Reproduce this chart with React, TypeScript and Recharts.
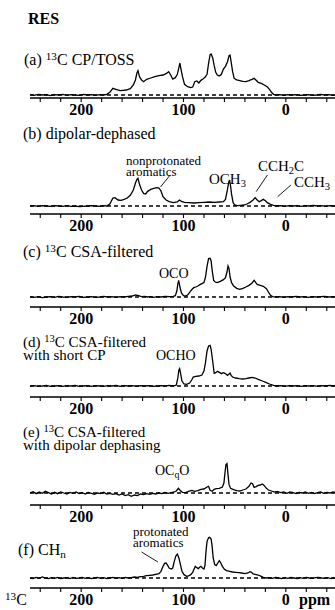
import React from 'react';
import { LineChart, Line, XAxis, YAxis, ReferenceLine } from 'recharts';

// ppm axis, shared by all six spectra
const PPM_TICKS = [240, 220, 200, 180, 160, 140, 120, 100, 80, 60, 40, 20, 0, -20, -40];
const PPM_LABELS = [200, 100, 0];

// (a) 13C CP/TOSS  [ppm, intensity]
const CP_TOSS: [number, number][] = [
  [250, 1], [246, -1], [242, 2], [238, 0], [234, 1], [230, -2], [226, 1], [222, 0], [218, 2], [214, -1],
  [210, 1], [206, 0], [202, -1], [198, 2], [194, 0], [190, 1], [186, -1], [182, 1], [178, 0], [175, 2],
  [172, 8], [169, 20], [166, 17], [162, 13], [159, 14], [156, 15], [152, 19], [149, 30], [147, 45], [145.5, 66],
  [144.5, 73], [143, 55], [141, 45], [139, 40], [136, 47], [132, 51], [128, 55], [124, 58], [120, 60], [117, 64],
  [114.5, 70], [112.5, 60], [110.5, 48], [108, 52], [106, 62], [104.5, 82], [103.5, 96], [102.5, 78], [101, 55], [99, 32],
  [96, 25], [93, 22], [91, 24], [89, 40], [87, 42], [85, 36], [83, 44], [81, 48], [79, 53], [77, 62],
  [75.5, 95], [74, 121], [73, 123], [71.5, 112], [70, 88], [68.5, 68], [67, 60], [65, 57], [63, 62], [61, 78],
  [59, 86], [57, 100], [55.5, 118], [54.5, 120], [53.5, 100], [52, 70], [50.5, 50], [48, 45], [45, 43], [42, 41],
  [39, 40], [36, 43], [33, 47], [31, 50], [29, 44], [27, 38], [24, 35], [21, 30], [18, 24], [16, 17],
  [14, 8], [12, 2], [10, 0], [6, 1], [2, -1], [-2, 1], [-6, 0], [-10, 1], [-14, -1], [-18, 0],
  [-22, 1], [-26, -1], [-30, 0], [-34, 2], [-38, 0], [-42, 1], [-46, -1], [-50, 0],
];

// (b) dipolar-dephased
const DIPOLAR_DEPHASED: [number, number][] = [
  [250, 0], [246, 1], [242, -1], [238, 1], [234, 0], [230, -1], [226, 1], [222, 0], [218, -1], [214, 1],
  [210, -1], [206, 0], [202, -2], [198, -1], [194, 0], [190, 1], [186, 0], [182, -1], [178, 1], [175, 0],
  [172, 6], [169, 24], [167, 25], [164, 18], [161, 17], [158, 20], [155, 24], [152, 32], [149, 48], [147, 68],
  [145.5, 80], [144.5, 83], [143, 65], [141, 48], [139, 38], [137, 36], [135, 44], [132, 50], [129, 53], [126, 55],
  [124, 54], [122, 45], [120, 28], [117, 18], [114, 13], [110, 10], [106, 12], [104, 18], [102, 14], [99, 11],
  [95, 10], [90, 9], [85, 10], [80, 11], [75, 12], [70, 11], [65, 12], [61, 13], [59, 20], [57.5, 42],
  [56, 68], [55, 78], [54, 60], [53, 35], [51.5, 10], [50, 3], [47, 1], [44, 2], [41, 3], [38, 6],
  [35, 11], [32, 18], [30, 25], [28, 18], [26, 13], [24, 16], [22, 20], [20, 16], [18, 10], [15, 5],
  [12, 2], [9, 0], [5, 1], [1, -1], [-3, 1], [-7, 0], [-11, 1], [-15, -1], [-19, 1], [-23, 0],
  [-27, 2], [-31, 0], [-35, 1], [-39, -1], [-43, 1], [-47, 0], [-50, 1],
];

// (c) 13C CSA-filtered
const CSA_FILTERED: [number, number][] = [
  [250, 0], [246, -1], [242, 1], [238, -2], [234, 0], [230, 1], [226, -1], [222, 2], [218, 0], [214, -1],
  [210, 1], [206, 0], [202, 2], [198, -1], [194, 0], [190, 1], [186, -1], [182, 0], [178, 2], [174, 0],
  [170, 1], [166, -1], [162, 1], [158, 0], [154, 2], [150, 3], [147, 6], [144, 4], [141, 1], [138, 2],
  [135, 0], [132, 1], [129, -1], [126, 1], [122, 0], [118, 2], [114, 1], [110, 2], [108, 4], [106.5, 18],
  [105.5, 40], [104.7, 50], [103.5, 30], [102, 12], [100, 4], [98, 3], [96, 6], [94, 14], [92, 22], [90, 28],
  [88, 30], [86, 33], [84, 37], [82, 40], [80, 43], [78.5, 60], [77, 92], [75.5, 115], [74, 116], [73, 108],
  [72, 80], [70.5, 50], [69, 45], [67, 43], [64, 47], [61, 52], [59, 58], [57.5, 75], [56.5, 93], [55.5, 85],
  [54.5, 60], [53, 43], [51, 33], [48, 26], [45, 23], [42, 26], [39, 30], [36, 35], [33, 42], [31, 50],
  [29.5, 44], [28, 38], [25, 35], [22, 32], [19, 25], [17, 15], [15, 5], [13, 1], [10, 0], [6, 1],
  [2, -1], [-2, 1], [-6, 0], [-10, 2], [-14, 0], [-18, 1], [-22, -1], [-26, 1], [-30, 0], [-34, 1],
  [-38, 2], [-42, 0], [-46, 1], [-50, 0],
];

// (d) 13C CSA-filtered with short CP
const CSA_SHORT_CP: [number, number][] = [
  [250, 0], [246, 1], [242, -1], [238, 0], [234, 2], [230, -1], [226, 0], [222, 1], [218, -1], [214, 1],
  [210, 0], [206, 2], [202, -1], [198, 0], [194, 1], [190, -1], [186, 1], [182, 0], [178, -1], [174, 1],
  [170, 0], [166, 2], [162, -1], [158, 1], [154, 0], [150, 1], [146, -1], [142, 1], [138, 0], [134, 1],
  [130, -1], [126, 0], [122, 1], [118, 0], [114, 2], [110, 0], [107, 3], [105.5, 25], [104.5, 48], [103.8, 52],
  [103, 40], [101.5, 15], [99.5, 6], [97, 5], [94, 9], [92, 18], [90.5, 27], [88, 29], [85, 30], [82, 33],
  [80, 45], [78.5, 70], [77, 105], [75.5, 120], [74, 122], [73, 110], [71.5, 75], [70, 38], [68.5, 40], [66.7, 44],
  [64.5, 40], [63, 37], [61, 40], [59.5, 38], [57, 32], [55.5, 36], [54.5, 39], [53.5, 32], [52, 27], [49, 24],
  [45.5, 22], [42, 21], [39, 22], [36, 24], [33, 26], [30, 24], [27, 20], [23, 15], [19, 10], [16, 6],
  [12, 2], [9, 0], [5, 1], [1, -1], [-3, 1], [-7, 0], [-11, 1], [-15, -1], [-19, 1], [-23, 0],
  [-27, 1], [-31, -1], [-35, 1], [-39, 0], [-43, 2], [-47, 0], [-50, 1],
];

// (e) 13C CSA-filtered with dipolar dephasing
const CSA_DIPOLAR: [number, number][] = [
  [250, 0], [247, 4], [244, -2], [241, 3], [238, -1], [235, 5], [232, 1], [229, -3], [226, 2], [223, -2],
  [220, 3], [217, 0], [214, -3], [211, 2], [208, -1], [205, 3], [202, -2], [199, 1], [196, -3], [193, 2],
  [190, -1], [187, -4], [184, 0], [181, -2], [178, 2], [175, -3], [172, -1], [169, -4], [166, -2], [163, -6],
  [160, -3], [157, -8], [154, -5], [151, -10], [148, -6], [145, -8], [142, -3], [139, -5], [136, -2], [133, -4],
  [130, -1], [127, -3], [124, 0], [121, -2], [118, 2], [115, -1], [112, 1], [109, 3], [107, 6], [105, 14],
  [103, 7], [101, 2], [98, 1], [95, 5], [92, 8], [89, 5], [86, 7], [83, 11], [80, 12], [77, 18],
  [75.5, 20], [74, 8], [72, 5], [70, 11], [68, 13], [65, 14], [62, 18], [60.5, 30], [59.5, 60], [58.5, 85],
  [57.5, 88], [56.5, 55], [55.5, 25], [54, 14], [51, 10], [48, 7], [45, 6], [42, 9], [39, 12], [36, 20],
  [34, 30], [32.5, 28], [31, 17], [29, 19], [27, 23], [25, 24], [23, 27], [21, 22], [19, 14], [17, 9],
  [14, 6], [11, 3], [8, 4], [5, 1], [2, 3], [-1, -1], [-4, 3], [-7, 1], [-10, -2], [-13, 2],
  [-16, 0], [-19, 3], [-22, -1], [-25, 2], [-28, -2], [-31, 1], [-34, 3], [-37, -1], [-40, 2], [-43, 0],
  [-46, 3], [-50, 1],
];

// (f) CHn
const CH_N: [number, number][] = [
  [250, 0], [247, -2], [244, 2], [241, -1], [238, 3], [235, 0], [232, -2], [229, 1], [226, -1], [223, 2],
  [220, -2], [217, 0], [214, 1], [211, -2], [208, 2], [205, -1], [202, 0], [199, 2], [196, -1], [193, 1],
  [190, -2], [187, 0], [184, 2], [181, -1], [178, 1], [175, -2], [172, 0], [169, 2], [166, -1], [163, 1],
  [160, -1], [157, 2], [154, 0], [151, 1], [148, 3], [145, 2], [142, 4], [139, 5], [136, 7], [133, 8],
  [130, 9], [127, 11], [124, 13], [122, 20], [120, 35], [118.5, 44], [117, 45], [115.5, 38], [114, 30], [112, 27],
  [110.5, 30], [109, 50], [107.5, 66], [106, 72], [104.5, 60], [103, 40], [101.5, 20], [99.5, 10], [97, 5], [95, 6],
  [93, 10], [91, 17], [89.5, 28], [88.5, 35], [87, 31], [85.5, 28], [84, 33], [83, 35], [81.5, 30], [80, 27],
  [79, 38], [78, 80], [77, 110], [75.5, 121], [74.5, 122], [73, 117], [72, 95], [71, 60], [69.5, 40], [68, 37],
  [66.5, 45], [65, 52], [63.5, 45], [62, 35], [60, 26], [58, 22], [55, 20], [52, 18], [49, 17], [46, 16],
  [43, 15], [40, 13], [37, 15], [35, 19], [33.5, 17], [32, 12], [30, 11], [27, 9], [24, 5], [22, 2],
  [19, 0], [16, 1], [13, -1], [10, 2], [7, 0], [4, -2], [1, 1], [-2, -1], [-5, 2], [-8, 0],
  [-11, -2], [-14, 1], [-17, -1], [-20, 2], [-23, 0], [-26, -1], [-29, 1], [-32, 2], [-35, 0], [-38, -1],
  [-41, 1], [-44, -2], [-47, 0], [-50, 1],
];

const SERIF = '"Liberation Serif", "Times New Roman", serif';
const PX = 3; // intensity units per screen pixel (same for every panel)

type Seg = [{ x: number; y: number }, { x: number; y: number }];

// base = y of the zero line, axis = y of the ppm axis (page pixels)
const PANELS: { data: [number, number][]; base: number; axis: number; segs: Seg[] }[] = [
  { data: CP_TOSS, base: 95, axis: 98, segs: [] },
  {
    data: DIPOLAR_DEPHASED, base: 206, axis: 214,
    segs: [
      [{ x: 113, y: 93 }, { x: 122.5, y: 57 }],
      [{ x: 18, y: 93 }, { x: 29, y: 43 }],
      [{ x: -5, y: 63 }, { x: 8, y: 28 }],
    ],
  },
  { data: CSA_FILTERED, base: 297, axis: 307, segs: [] },
  { data: CSA_SHORT_CP, base: 386, axis: 397, segs: [] },
  { data: CSA_DIPOLAR, base: 493, axis: 505, segs: [] },
  { data: CH_N, base: 578, axis: 588, segs: [[{ x: 141, y: 78 }, { x: 125, y: 48 }]] },
];

function PpmTick({ x, y, payload }: any) {
  if (!PPM_LABELS.includes(payload.value)) return <g />;
  return (
    <text x={x} y={y} dy="0.71em" textAnchor="middle" fontFamily={SERIF} fontWeight="bold" fontSize={16} fill="#000">
      {payload.value}
    </text>
  );
}

function Spectrum({ data, base, axis, segs }: { data: [number, number][]; base: number; axis: number; segs: Seg[] }) {
  const top = base - 50;
  const h = axis - top + 24;
  const rows = data.map(([ppm, v]) => ({ ppm, v }));
  return (
    <div style={{ position: 'absolute', left: 0, top, width: 340, height: h }}>
      <LineChart width={340} height={h} data={rows} margin={{ top: 0, right: 3, bottom: 0, left: 30 }}>
        <XAxis
          type="number"
          dataKey="ppm"
          domain={[-50, 250]}
          reversed
          allowDataOverflow
          ticks={PPM_TICKS}
          interval={0}
          tickSize={4}
          tickMargin={2}
          height={24}
          axisLine={{ stroke: '#000', strokeWidth: 1.5 }}
          tickLine={{ stroke: '#000', strokeWidth: 1.1 }}
          tick={<PpmTick />}
        />
        <YAxis hide allowDataOverflow domain={[-(axis - base) * PX, 50 * PX]} />
        <ReferenceLine y={0} stroke="#000" strokeWidth={1.3} strokeDasharray="4 3" />
        {segs.map((s, i) => (
          <ReferenceLine key={i} segment={s} stroke="#000" strokeWidth={0.9} ifOverflow="visible" />
        ))}
        <Line type="linear" dataKey="v" stroke="#000" strokeWidth={1.3} dot={false} isAnimationActive={false} />
      </LineChart>
    </div>
  );
}

// y = centre of the first line; lh = line pitch for multi-line labels
function Txt({ x, y, size = 16, lh, bold, children }: { x: number; y: number; size?: number; lh?: number; bold?: boolean; children: React.ReactNode }) {
  const pitch = lh ?? size * 0.8;
  return (
    <div
      style={{
        position: 'absolute', left: x, top: y - pitch / 2, fontFamily: SERIF, fontSize: size,
        fontWeight: bold ? 'bold' : 'normal', lineHeight: `${pitch}px`, whiteSpace: 'nowrap', color: '#000',
      }}
    >
      {children}
    </div>
  );
}

const Sup = ({ children }: { children: React.ReactNode }) => (
  <span style={{ fontSize: '0.7em', position: 'relative', top: '-0.45em', lineHeight: 0 }}>{children}</span>
);
const Sub = ({ children }: { children: React.ReactNode }) => (
  <span style={{ fontSize: '0.7em', position: 'relative', top: '0.3em', lineHeight: 0 }}>{children}</span>
);

export default function App() {
  return (
    <div style={{ position: 'absolute', left: 0, top: 0, width: 335, height: 610, overflow: 'hidden', background: '#fff' }}>
      {PANELS.map((p, i) => (
        <Spectrum key={i} data={p.data} base={p.base} axis={p.axis} segs={p.segs} />
      ))}
      <Txt x={28} y={19} size={16} bold>RES</Txt>
      <Txt x={24} y={60}>(a) <Sup>13</Sup>C CP/TOSS</Txt>
      <Txt x={23} y={134}>(b) dipolar-dephased</Txt>
      <Txt x={126} y={160} size={13} lh={11}>nonprotonated<br />aromatics</Txt>
      <Txt x={209} y={179} size={15}>OCH<Sub>3</Sub></Txt>
      <Txt x={258} y={166} size={15}>CCH<Sub>2</Sub>C</Txt>
      <Txt x={294} y={182} size={15}>CCH<Sub>3</Sub></Txt>
      <Txt x={23} y={252}>(c) <Sup>13</Sup>C CSA-filtered</Txt>
      <Txt x={159} y={274} size={14}>OCO</Txt>
      <Txt x={23} y={342} size={15} lh={13}>(d) <Sup>13</Sup>C CSA-filtered<br />with short CP</Txt>
      <Txt x={156} y={356} size={14}>OCHO</Txt>
      <Txt x={23} y={432} size={15} lh={13}>(e) <Sup>13</Sup>C CSA-filtered<br />with dipolar dephasing</Txt>
      <Txt x={155} y={471} size={14}>OC<Sub>q</Sub>O</Txt>
      <Txt x={18} y={550}>(f) CH<Sub>n</Sub></Txt>
      <Txt x={133} y={531} size={13} lh={11}>protonated<br />aromatics</Txt>
      <Txt x={5} y={600} size={16}><Sup>13</Sup>C</Txt>
      <Txt x={299} y={600} size={16} bold>ppm</Txt>
    </div>
  );
}
